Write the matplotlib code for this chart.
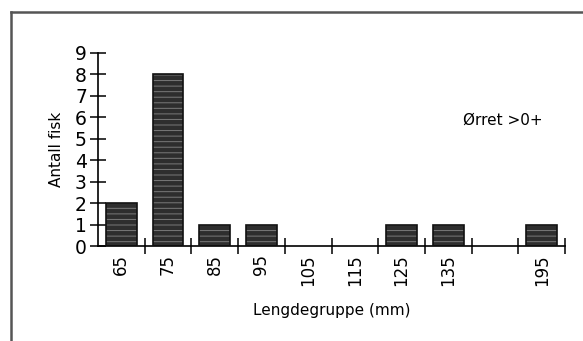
import matplotlib
matplotlib.use('Agg')
import matplotlib.pyplot as plt
from matplotlib.lines import Line2D
import numpy as np

# Length groups (mm) and number of trout in each; one empty slot before 195
groups = ['65', '75', '85', '95', '105', '115', '125', '135', '', '195']
counts = [2, 8, 1, 1, 0, 0, 1, 1, 0, 1]
y_ticks = list(range(0, 10))

plt.rcParams['font.family'] = ['DejaVu Sans']

W, H = 583, 341
fig = plt.figure(figsize=(W / 100, H / 100), dpi=100)
fig.patch.set_facecolor('white')

# Outer frame (top and left edges visible)
fig.add_artist(Line2D([11 / W, 1.0], [1 - 12 / H, 1 - 12 / H], color='#555555', lw=1.8))
fig.add_artist(Line2D([11 / W, 11 / W], [0, 1 - 12 / H], color='#555555', lw=1.8))

ax = fig.add_axes([98 / W, 1 - 246 / H, (565 - 98) / W, (246 - 53) / H])

x = np.arange(len(groups)) + 0.5
heights = np.array(counts)
mask = heights > 0

# Dark bars with light horizontal stripes, then a black outline on top
plt.rcParams['hatch.linewidth'] = 0.7
ax.bar(x[mask], heights[mask], width=0.66, color='#2e2e2e', edgecolor='#7a7a7a',
       hatch='---', linewidth=0, zorder=2)
ax.bar(x[mask], heights[mask], width=0.66, fill=False, edgecolor='#111111',
       linewidth=1.2, zorder=3)

ax.set_xlim(0, len(groups))
ax.set_ylim(0, 9)

for side in ['top', 'right']:
    ax.spines[side].set_visible(False)
ax.spines['left'].set_linewidth(1.2)
ax.spines['bottom'].set_linewidth(1.2)

# Major x ticks mark the slot boundaries, minor ticks carry the labels
ax.set_xticks(np.arange(1, len(groups) + 1))
ax.set_xticklabels([])
ax.tick_params(axis='x', which='major', direction='inout', length=11, width=1.1)
ax.set_xticks(x, minor=True)
ax.set_xticklabels(groups, minor=True, rotation=90, fontsize=12)
ax.tick_params(axis='x', which='minor', length=0, pad=6)

ax.set_yticks(y_ticks)
ax.set_yticklabels([str(v) for v in y_ticks], fontsize=13.5)
ax.tick_params(axis='y', direction='inout', length=12, width=1.1, pad=2)

ax.set_ylabel('Antall fisk', fontsize=11, labelpad=8)
fig.text(332 / W, 1 - 310 / H, 'Lengdegruppe (mm)', ha='center', va='center',
         fontsize=11)
ax.text(503 / W, 1 - 120 / H, 'Ørret >0+', transform=fig.transFigure,
        ha='center', va='center', fontsize=11)

fig.savefig('out.png', dpi=100, facecolor='white')
